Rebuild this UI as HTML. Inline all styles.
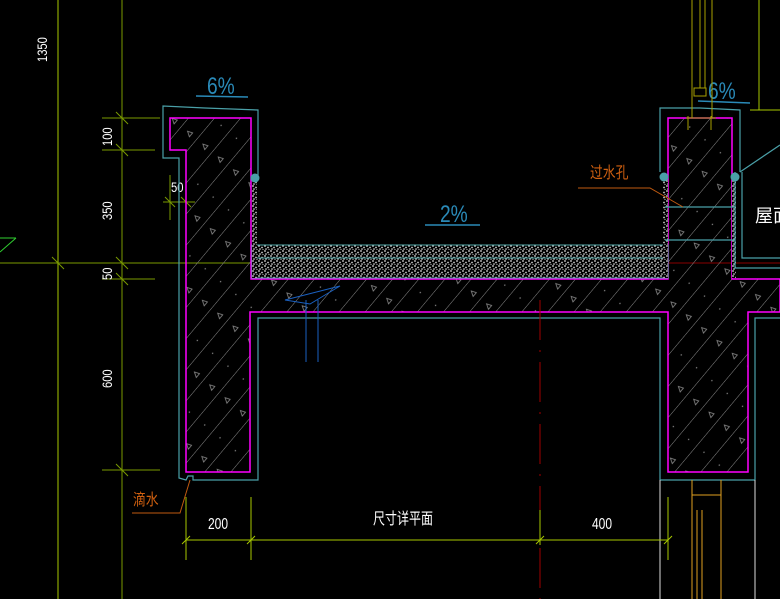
<!DOCTYPE html>
<html><head><meta charset="utf-8"><style>
html,body{margin:0;padding:0;background:#000;width:780px;height:599px;overflow:hidden}
text{font-family:"Liberation Sans","Noto Sans CJK SC",sans-serif}
</style></head><body>
<svg width="780" height="599" viewBox="0 0 780 599" xmlns="http://www.w3.org/2000/svg">
<defs>
<pattern id="h" patternUnits="userSpaceOnUse" width="20" height="60" patternTransform="rotate(40)">
<line x1="0" y1="0" x2="0" y2="60" stroke="#8a8a8a" stroke-width="1"/>
<circle cx="10" cy="14" r="0.7" fill="#888"/>
<path d="M8 40 l5 -2 l0 5 z" fill="none" stroke="#888" stroke-width="0.8"/>
</pattern>
<pattern id="g" patternUnits="userSpaceOnUse" width="6" height="5">
<rect width="6" height="5" fill="#000"/>
<circle cx="1" cy="1" r="0.9" fill="#ddd"/><circle cx="4" cy="2.5" r="0.9" fill="#ccc"/><circle cx="2" cy="4" r="0.8" fill="#eee"/><circle cx="5" cy="4.5" r="0.6" fill="#bbb"/>
</pattern>
</defs>
<line x1="58" y1="0" x2="58" y2="599" stroke="#a8c800"/>
<line x1="122" y1="0" x2="122" y2="599" stroke="#7a9a00"/>
<line x1="0" y1="263" x2="250" y2="263" stroke="#7a9a00"/>
<line x1="250" y1="263" x2="780" y2="263" stroke="#8a0000"/>
<line x1="0" y1="252" x2="16" y2="238" stroke="#30d030"/>
<line x1="0" y1="238" x2="16" y2="238" stroke="#30d030"/>
<g stroke="#7a9a00">
<line x1="102" y1="118" x2="160" y2="118"/><line x1="102" y1="150" x2="155" y2="150"/>
<line x1="102" y1="279" x2="155" y2="279"/><line x1="102" y1="470" x2="160" y2="470"/>
<line x1="116" y1="112" x2="128" y2="124"/><line x1="116" y1="144" x2="128" y2="156"/>
<line x1="116" y1="257" x2="128" y2="269"/><line x1="116" y1="273" x2="128" y2="285"/>
<line x1="116" y1="464" x2="128" y2="476"/><line x1="52" y1="257" x2="64" y2="269"/>
<line x1="163" y1="202" x2="195" y2="202"/><line x1="170" y1="175" x2="170" y2="220"/>
<line x1="165" y1="197" x2="175" y2="207"/><line x1="181" y1="197" x2="191" y2="207"/>
</g>
<g fill="#fff" font-size="14">
<text transform="translate(47,62) rotate(-90) scale(0.8,1)">1350</text>
<text transform="translate(112,146) rotate(-90) scale(0.8,1)">100</text>
<text transform="translate(112,220) rotate(-90) scale(0.8,1)">350</text>
<text transform="translate(112,280) rotate(-90) scale(0.8,1)">50</text>
<text transform="translate(112,388) rotate(-90) scale(0.8,1)">600</text>
<text transform="translate(171,192) scale(0.8,1)">50</text>
</g>
<path d="M170,118 L251,118 L251,279 L668,279 L668,118 L732,118 L732,279 L780,279 L780,312 L748,312 L748,472 L668,472 L668,312 L250,312 L250,472 L186,472 L186,150 L170,150 Z" fill="url(#h)" stroke="#ff00ff" stroke-width="1.5"/>
<rect x="252" y="245" width="416" height="33" fill="url(#g)" stroke="#5aa" stroke-width="1"/>
<line x1="252" y1="258" x2="668" y2="258" stroke="#5aa"/>
<rect x="252" y="180" width="5" height="98" fill="url(#g)"/>
<rect x="663" y="180" width="5" height="98" fill="url(#g)"/>
<rect x="732" y="180" width="4" height="98" fill="url(#g)"/>
<g stroke="#4aa0a8" fill="none" stroke-width="1.2">
<path d="M258,176 L258,110 L205,108 L163,106 L163,158 L179,158 L179,478 L186,480 L188,476 L193,476 L193,480 L258,480 L258,318 L660,318 L660,480"/>
<path d="M660,172 L660,108 L700,108 L740,110 L740,172"/>
<path d="M740,172 L780,145"/>
<path d="M755,480 L755,318 L780,318"/>
<path d="M660,480 L755,480"/>
<path d="M735,172 L735,268 L780,268"/>
<path d="M742,172 L742,258 L780,258"/>
<path d="M665,207 L735,207 M665,240 L735,240"/>
</g>
<circle cx="255" cy="178" r="4.5" fill="#4aa0a8"/>
<circle cx="664" cy="177" r="4.5" fill="#4aa0a8"/>
<circle cx="735" cy="177" r="4.5" fill="#4aa0a8"/>
<g fill="#2a8ab8" font-size="24">
<text transform="translate(207,94) scale(0.8,1)">6%</text><text transform="translate(708,99) scale(0.8,1)">6%</text><text transform="translate(440,222) scale(0.8,1)">2%</text>
</g>
<g stroke="#2a8ab8" stroke-width="1.5"><line x1="196" y1="96" x2="248" y2="97"/><line x1="698" y1="101" x2="750" y2="103"/><line x1="425" y1="225" x2="480" y2="225"/></g>
<g stroke="#a8a000" fill="none">
<line x1="692" y1="0" x2="692" y2="118"/><line x1="700" y1="0" x2="700" y2="88"/><line x1="705" y1="0" x2="705" y2="88"/><line x1="712" y1="0" x2="712" y2="118"/>
<rect x="694" y="88" width="12" height="8"/><line x1="686" y1="118" x2="716" y2="118"/>
<path d="M688,116 v14 M711,116 v14"/>
</g>
<line x1="759" y1="0" x2="759" y2="110" stroke="#a8c800"/>
<line x1="750" y1="110" x2="780" y2="110" stroke="#a8c800"/>
<g stroke="#1a60c0" fill="none"><path d="M285,300 L340,286 L310,304 Z"/><line x1="306" y1="300" x2="306" y2="362"/><line x1="318" y1="300" x2="318" y2="362"/></g>
<line x1="540" y1="300" x2="540" y2="599" stroke="#a00000" stroke-dasharray="40,10,2,10"/>
<g stroke="#ddd"><line x1="660" y1="480" x2="660" y2="599"/><line x1="755" y1="480" x2="755" y2="599"/></g>
<g stroke="#e0a020"><line x1="692" y1="480" x2="692" y2="599"/><line x1="721" y1="480" x2="721" y2="599"/><line x1="692" y1="495" x2="721" y2="495"/><line x1="697" y1="510" x2="697" y2="599"/><line x1="702" y1="510" x2="702" y2="599"/></g>
<g stroke="#a8c800">
<line x1="186" y1="540" x2="668" y2="540"/>
<line x1="186" y1="497" x2="186" y2="560"/><line x1="251" y1="497" x2="251" y2="560"/><line x1="540" y1="510" x2="540" y2="545"/><line x1="668" y1="497" x2="668" y2="560"/>
<line x1="182" y1="544" x2="190" y2="536"/><line x1="247" y1="544" x2="255" y2="536"/><line x1="536" y1="544" x2="544" y2="536"/><line x1="664" y1="544" x2="672" y2="536"/>
</g>
<g fill="#fff" font-size="16">
<text transform="translate(208,529) scale(0.75,1)">200</text>
<text transform="translate(373,524) scale(0.75,1)">尺寸详平面</text>
<text transform="translate(592,529) scale(0.75,1)">400</text>
<text x="755" y="222" font-size="18">屋面</text></g>
<g fill="#d06010" font-size="16"><text transform="translate(133,505) scale(0.8,1)">滴水</text><text transform="translate(590,178) scale(0.8,1)">过水孔</text></g>
<g stroke="#c05a10" fill="none"><path d="M132,513 L180,513 L190,480"/><path d="M578,188 L650,188 L683,207"/></g>
</svg>
</body></html>
